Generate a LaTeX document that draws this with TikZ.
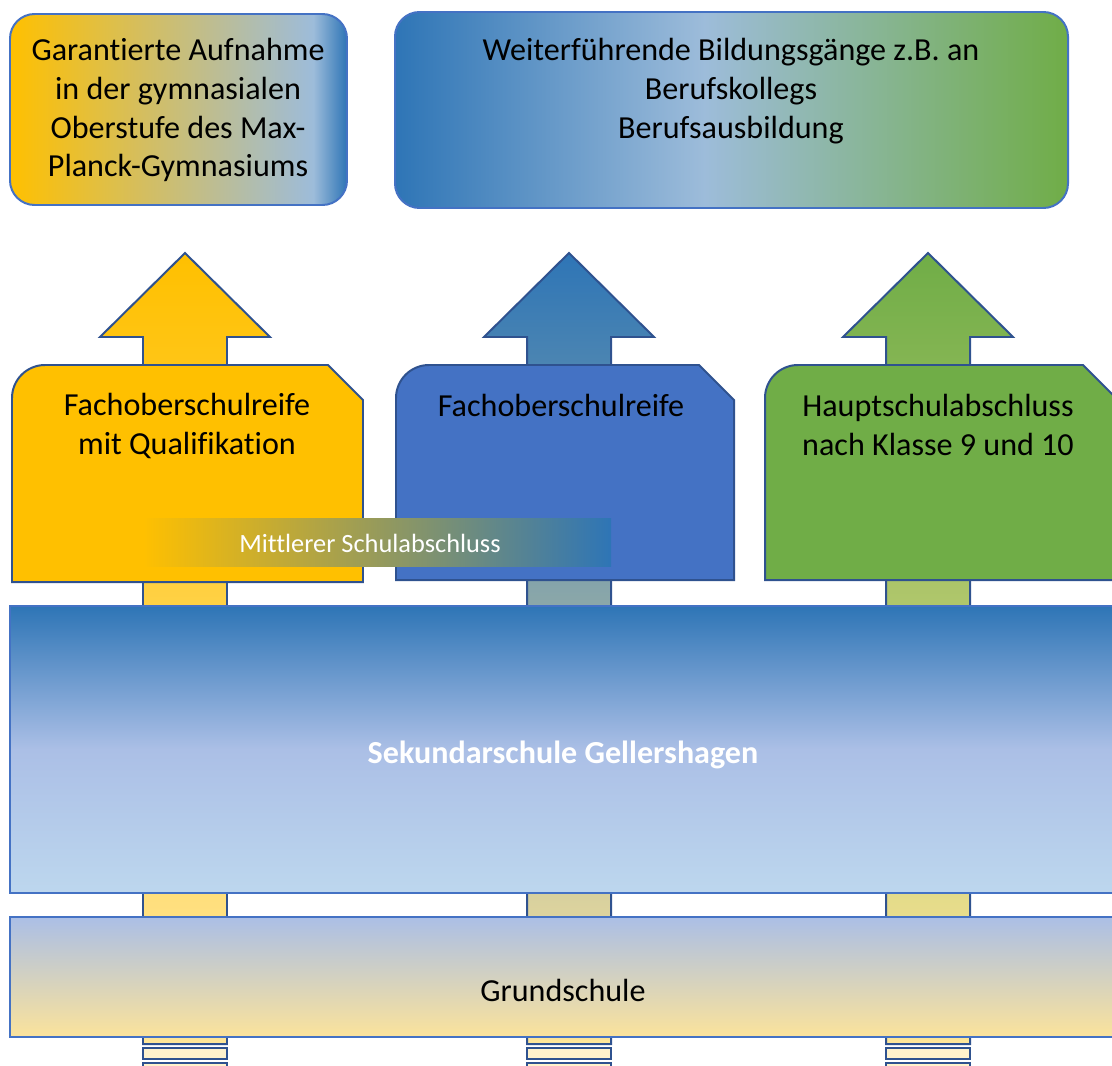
\documentclass[tikz,border=0pt]{standalone}
\usepackage{fontspec}
\setmainfont{Carlito}[Ligatures=NoCommon]
\usetikzlibrary{positioning}
\definecolor{gold}{HTML}{FFC000}
\definecolor{steel}{HTML}{2E75B6}
\definecolor{royal}{HTML}{4472C4}
\definecolor{leaf}{HTML}{70AD47}
\definecolor{navy}{HTML}{2F528F}
\definecolor{cream}{HTML}{FFF2CC}
\definecolor{wheat}{HTML}{FFE699}
\definecolor{skyline}{HTML}{9DBCDA}
\definecolor{lavender}{HTML}{ABBFE6}
\definecolor{paleblue}{HTML}{BDD7EE}
\definecolor{sand}{HTML}{FBE39B}
\pgfdeclarehorizontalshading{goldsky}{100bp}{color(0bp)=(gold); color(25bp)=(gold); color(70bp)=(skyline); color(75bp)=(steel); color(100bp)=(steel)}
\pgfdeclarehorizontalshading{bluegreen}{100bp}{color(0bp)=(steel); color(25bp)=(steel); color(48bp)=(skyline); color(75bp)=(leaf); color(100bp)=(leaf)}
\pgfdeclareverticalshading{sekshade}{100bp}{color(0bp)=(paleblue); color(25bp)=(paleblue); color(50bp)=(lavender); color(75bp)=(steel); color(100bp)=(steel)}

\begin{document}
\begin{tikzpicture}[x=0.03cm, y=0.03cm,
  txt/.style={font=\fontsize{27.4}{33.2}\selectfont, align=center, inner sep=0pt},
  goalbox/.style={draw=royal, line width=1.7pt, rounded corners=21pt},
  uparrow/.style={draw=navy, line width=1.7pt, bottom color=wheat},
  stripe/.style={draw=navy, line width=2.2pt, fill=cream},
  tagbox/.style={draw=navy, line width=1.7pt},
  layer/.style={draw=royal, line width=1.7pt}]
  \clip (0,0) rectangle (1112,-1066);

  % Striped up arrows
  \foreach \cx/\col in {185/gold, 569/steel, 928/leaf}{
    \draw[uparrow, top color=\col] (\cx-42,-1044) -- (\cx-42,-337) -- (\cx-85,-337) -- (\cx,-253)
      -- (\cx+85,-337) -- (\cx+42,-337) -- (\cx+42,-1044) -- cycle;
    \draw[stripe] (\cx-42,-1048) rectangle (\cx+42,-1059);
    \draw[stripe] (\cx-42,-1063) rectangle (\cx+42,-1074);
  }

  % Degree boxes
  \foreach \l/\r/\b/\col in {12/363/582/gold, 396/734/580/royal, 765/1118/580/leaf}{
    \draw[tagbox, fill=\col] (\l,-\b) -- (\l,-398) arc (180:90:33) -- (\r-35,-365) -- (\r,-400) -- (\r,-\b) -- cycle;
  }
  \node[txt] (fq) at (187,-426) {Fachoberschulreife\\mit Qualifikation};
  \node[txt] (fo) at (561,-405) {Fachoberschulreife};
  \node[txt] (hs) at (938,-425) {Hauptschulabschluss\\nach Klasse 9 und 10};

  % Mittlerer Schulabschluss
  \path[left color=gold, right color=steel] (143,-518) rectangle (611,-566);
  \node[txt, font=\fontsize{22.5}{26}\selectfont, text=white] (msa) at (370,-543) {Mittlerer Schulabschluss};

  % Schools
  \draw[layer, shading=sekshade] (10,-606) rectangle (1125,-893);
  \node[txt, font=\fontsize{27.4}{33.2}\selectfont\bfseries, text=white] (sek) at (563,-755) {Sekundarschule Gellershagen};
  \draw[layer, top color=lavender, bottom color=sand] (10,-917) rectangle (1125,-1037);
  \node[txt] (gs) at (563,-990) {Grundschule};

  % Goals
  \draw[goalbox, shading=goldsky] (10,-14) rectangle (347,-205);
  \node[txt] (mpg) at (178,-110) {Garantierte Aufnahme\\in der gymnasialen\\Oberstufe des Max-\\Planck-Gymnasiums};
  \draw[goalbox, shading=bluegreen] (395,-12) rectangle (1068,-208);
  \node[txt] (bk) at (731,-91) {Weiterführende Bildungsgänge z.B. an\\Berufskollegs\\Berufsausbildung};
\end{tikzpicture}
\end{document}
